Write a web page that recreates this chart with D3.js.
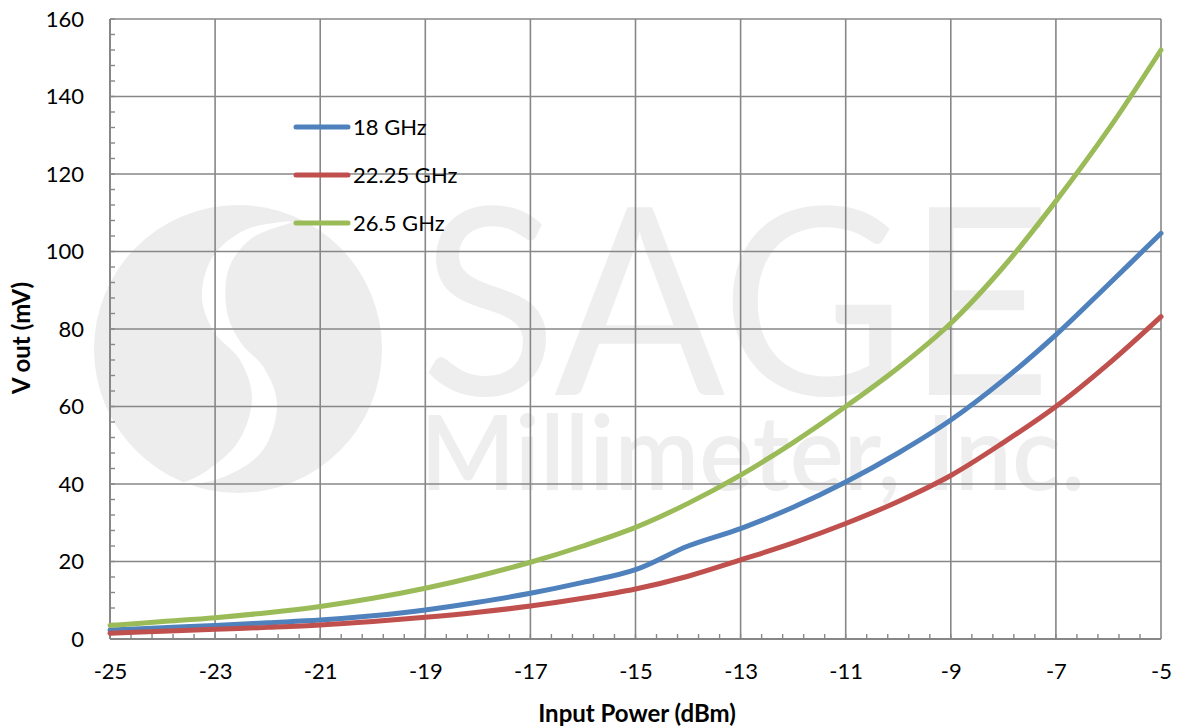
<!DOCTYPE html>
<meta charset="utf-8">
<script src="https://d3js.org/d3.v7.min.js"></script>
<style>
  body { margin: 0; background: #fff; }
  text { font-family: Lato, "Open Sans", sans-serif; fill: #000; }
</style>
<div id="my_dataviz"></div>
<script>

  // input power (dBm)
  var power = [-25, -24, -23, -22, -21, -20, -19, -18, -17, -16, -15,
               -14, -13, -12, -11, -10, -9, -8, -7, -6, -5];

  // V out (mV) per frequency
  var v18 = [2.3, 2.9, 3.5, 4.2, 4.9, 6.0, 7.5, 9.5, 11.8, 14.6, 17.9,
             24.0, 28.5, 34.0, 40.5, 48.0, 56.5, 66.8, 78.5, 91.5, 104.7];
  var v2225 = [1.5, 2.0, 2.5, 3.0, 3.6, 4.5, 5.6, 6.9, 8.5, 10.5, 12.9,
               16.2, 20.4, 24.8, 29.8, 35.5, 42.2, 50.7, 60.0, 71.0, 83.2];
  var v265 = [3.5, 4.5, 5.5, 6.8, 8.4, 10.5, 13.1, 16.2, 19.8, 24.0, 28.8,
              35.0, 42.3, 50.7, 60.0, 70.0, 81.5, 96.0, 113.0, 131.5, 152.0];

  var seriesNames = ["18 GHz", "22.25 GHz", "26.5 GHz"];
  var seriesColors = ["#4F81BD", "#C0504D", "#9BBB59"];
  var xTicks = [-25, -23, -21, -19, -17, -15, -13, -11, -9, -7, -5];
  var yTicks = [0, 20, 40, 60, 80, 100, 120, 140, 160];

  var series = [v18, v2225, v265].map(function(vals, i) {
    return { name: seriesNames[i], color: seriesColors[i],
             values: vals.map(function(v, j) { return { p: power[j], v: v }; }) };
  });

  var margin = {top: 19, right: 17, bottom: 89, left: 110},
      width = 1178 - margin.left - margin.right,
      height = 728 - margin.top - margin.bottom;

  var root = d3.select("#my_dataviz")
    .append("svg")
      .attr("width", 1178)
      .attr("height", 728);

  // watermark (background decoration)
  var wm = root.append("g").attr("class", "watermark");
  wm.append("ellipse")
      .attr("cx", 238).attr("cy", 349).attr("rx", 144).attr("ry", 144)
      .style("fill", "#ededed");
  var gap = [[292,222],[245,230],[212,258],[202,298],[214,332],[240,360],[252,398],
             [238,442],[205,472],[178,486],[226,476],[263,450],[277,404],[264,368],
             [241,343],[227,312],[229,268],[252,238]];
  wm.append("path")
      .attr("d", d3.line().curve(d3.curveCatmullRomClosed)(gap))
      .style("fill", "#fff");
  wm.append("text")
      .attr("x", 420).attr("y", 395)
      .attr("textLength", 632).attr("lengthAdjust", "spacingAndGlyphs")
      .style("font-family", "Lato, sans-serif")
      .style("font-weight", 400)
      .style("font-size", "262px")
      .style("fill", "#eeeeee")
      .text("SAGE");
  wm.append("text")
      .attr("x", 420).attr("y", 490)
      .attr("textLength", 665).attr("lengthAdjust", "spacingAndGlyphs")
      .style("font-family", "Lato, sans-serif")
      .style("font-weight", 600)
      .style("font-size", "104px")
      .style("fill", "#eeeeee")
      .text("Millimeter, Inc.");

  var svg = root.append("g")
      .attr("transform", "translate(" + margin.left + "," + margin.top + ")");

  var x = d3.scaleLinear().domain([-25, -5]).range([0, width]);
  var y = d3.scaleLinear().domain([0, 160]).range([height, 0]);

  var gridColor = "#878787";

  // gridlines
  svg.append("g")
    .selectAll("line.vgrid")
    .data(xTicks)
    .enter().append("line")
      .attr("x1", function(d) { return x(d); })
      .attr("x2", function(d) { return x(d); })
      .attr("y1", 0).attr("y2", height)
      .style("stroke", gridColor).style("stroke-width", 1.6);
  svg.append("g")
    .selectAll("line.hgrid")
    .data(yTicks)
    .enter().append("line")
      .attr("x1", 0).attr("x2", width)
      .attr("y1", function(d) { return y(d); })
      .attr("y2", function(d) { return y(d); })
      .style("stroke", gridColor).style("stroke-width", 1.6);

  // minor ticks pointing into the plot
  var xMinor = d3.range(-25, -5.001, 0.4);
  var yMinor = d3.range(0, 160.001, 4);
  svg.append("g")
    .selectAll("line")
    .data(xMinor)
    .enter().append("line")
      .attr("x1", function(d) { return x(d); })
      .attr("x2", function(d) { return x(d); })
      .attr("y1", height).attr("y2", height - 5)
      .style("stroke", gridColor).style("stroke-width", 1.4);
  svg.append("g")
    .selectAll("line")
    .data(yMinor)
    .enter().append("line")
      .attr("x1", 0).attr("x2", 5)
      .attr("y1", function(d) { return y(d); })
      .attr("y2", function(d) { return y(d); })
      .style("stroke", gridColor).style("stroke-width", 1.4);

  // axes lines
  svg.append("line").attr("x1", 0).attr("x2", 0).attr("y1", 0).attr("y2", height)
    .style("stroke", gridColor).style("stroke-width", 2);
  svg.append("line").attr("x1", 0).attr("x2", width).attr("y1", height).attr("y2", height)
    .style("stroke", gridColor).style("stroke-width", 2);

  // tick labels via d3 axes (domain/tick marks hidden), plain hyphen minus
  var fmt = function(d) { return String(d); };
  var xAxis = svg.append("g")
      .attr("transform", "translate(0," + height + ")")
      .call(d3.axisBottom(x).tickValues(xTicks).tickFormat(fmt).tickSize(0).tickPadding(24));
  var yAxis = svg.append("g")
      .call(d3.axisLeft(y).tickValues(yTicks).tickFormat(fmt).tickSize(0).tickPadding(26));
  [xAxis, yAxis].forEach(function(a) {
    a.select(".domain").remove();
    a.selectAll("text")
      .style("font-family", "Lato, 'Open Sans', sans-serif")
      .style("font-size", "22px")
      .style("fill", "#000");
  });

  // series lines
  var line = d3.line()
      .curve(d3.curveCatmullRom.alpha(0.5))
      .x(function(d) { return x(d.p); })
      .y(function(d) { return y(d.v); });

  svg.selectAll("path.series")
    .data(series)
    .enter().append("path")
      .attr("class", "series")
      .attr("d", function(d) { return line(d.values); })
      .style("fill", "none")
      .style("stroke", function(d) { return d.color; })
      .style("stroke-width", 5)
      .style("stroke-linecap", "round")
      .style("stroke-linejoin", "round");

  // legend
  var legend = root.append("g").attr("transform", "translate(296,127)");
  var items = legend.selectAll("g")
    .data(series)
    .enter().append("g")
      .attr("transform", function(d, i) { return "translate(0," + (i * 48) + ")"; });
  items.append("line")
      .attr("x1", 0).attr("x2", 52)
      .style("stroke", function(d) { return d.color; })
      .style("stroke-width", 5)
      .style("stroke-linecap", "round");
  items.append("text")
      .attr("x", 57).attr("dy", "0.35em")
      .style("font-size", "22px")
      .text(function(d) { return d.name; });

  // axis titles
  root.append("text")
      .attr("x", 637).attr("y", 722)
      .attr("text-anchor", "middle")
      .style("font-size", "24px").style("font-weight", "bold")
      .text("Input Power (dBm)");
  root.append("text")
      .attr("transform", "translate(30,338) rotate(-90)")
      .attr("text-anchor", "middle")
      .style("font-size", "24px").style("font-weight", "bold")
      .text("V out (mV)");

</script>
